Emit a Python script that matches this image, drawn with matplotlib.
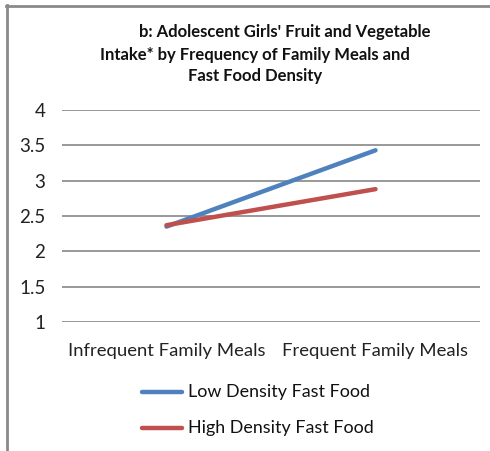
import matplotlib
matplotlib.use("Agg")
import matplotlib.pyplot as plt
from matplotlib.lines import Line2D

categories = ["Infrequent Family Meals", "Frequent Family Meals"]
low_density = [2.35, 3.43]
high_density = [2.37, 2.88]
series_names = ["Low Density Fast Food", "High Density Fast Food"]
yticks = [1, 1.5, 2, 2.5, 3, 3.5, 4]
title_lines = ["b: Adolescent Girls' Fruit and Vegetable",
               "Intake* by Frequency of Family Meals and",
               "Fast Food Density"]

W, H = 490, 451
plt.rcParams['font.family'] = ['Lato', 'DejaVu Sans']
fig = plt.figure(figsize=(W/100, H/100), dpi=100)
ax = fig.add_axes([62/W, 1-322/H, (480-62)/W, (322-110)/H])

x = list(range(len(categories)))
blue, red = "#4F81BD", "#C0504D"
ax.plot(x, low_density, color=blue, lw=3.2, solid_capstyle='round')
ax.plot(x, high_density, color=red, lw=3.2, solid_capstyle='round')
ax.set_xlim(-0.5, 1.5)
ax.set_ylim(1, 4)
ax.set_yticks(yticks)
ax.set_yticklabels([f"{v:g}" for v in yticks], fontsize=13.5)
ax.set_xticks(x)
ax.set_xticklabels(categories, fontsize=13.3)
ax.grid(axis='y', color='#868686', lw=1.2)
ax.set_axisbelow(True)
for s in ax.spines.values():
    s.set_visible(False)
ax.tick_params(length=0, colors='#222222')
ax.tick_params(axis='y', pad=12)
ax.tick_params(axis='x', pad=15)

# title
ys = [32, 55, 76]
xs = [285, 255, 255]
for t, xx, yy in zip(title_lines, xs, ys):
    fig.text(xx/W, 1-yy/H, t, ha='center', va='center', fontsize=12,
             fontweight='bold', color='#111111')

# legend
for name, col, yy in zip(series_names, [blue, red], [392, 428]):
    fig.add_artist(Line2D([142/W, 182/W], [1-yy/H, 1-yy/H], color=col, lw=3.2,
                          solid_capstyle='round', transform=fig.transFigure))
    fig.text(188/W, 1-yy/H, name, ha='left', va='center', fontsize=12.9, color='#111111')

# frame (top and left)
fig.add_artist(Line2D([6/W, 1], [1-5.5/H, 1-5.5/H], color='#8a8a8a', lw=2, transform=fig.transFigure))
fig.add_artist(Line2D([6.5/W, 6.5/W], [0, 1-5/H], color='#8a8a8a', lw=2, transform=fig.transFigure))

fig.savefig("out.png", dpi=100)
